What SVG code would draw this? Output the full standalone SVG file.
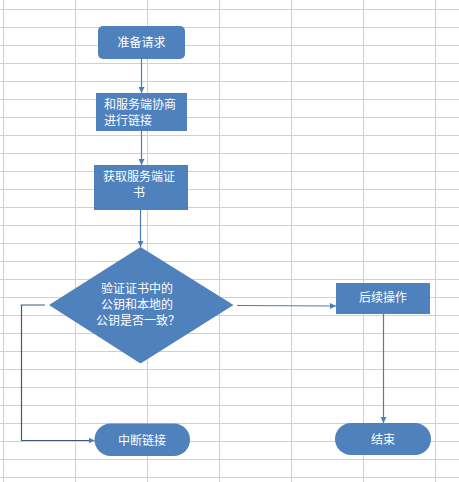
<svg xmlns="http://www.w3.org/2000/svg" width="459" height="482" viewBox="0 0 459 482">
<defs>
<style>
.grid line{stroke:#d0d0d0;stroke-width:1}
.shape{fill:#4f81bd}
.t{font-family:"Microsoft YaHei","Noto Sans CJK SC",sans-serif;font-size:12px;fill:#ffffff}
.c{fill:none;stroke:#4a7ebb;stroke-width:1.2}
.cd{fill:none;stroke:#3c5a80;stroke-width:1.2}
</style>
<marker id="ah" viewBox="0 0 10 10" refX="10" refY="5" markerWidth="6" markerHeight="6" orient="auto" markerUnits="userSpaceOnUse">
<path d="M0,0 L10,5 L0,10 Z" fill="#4a7ebb"/>
</marker>
</defs>
<rect width="459" height="482" fill="#ffffff"/>
<g class="grid">
<line x1="0" y1="9.5" x2="459" y2="9.5"/><line x1="0" y1="27.5" x2="459" y2="27.5"/><line x1="0" y1="45.5" x2="459" y2="45.5"/><line x1="0" y1="63.5" x2="459" y2="63.5"/><line x1="0" y1="81.5" x2="459" y2="81.5"/><line x1="0" y1="99.5" x2="459" y2="99.5"/><line x1="0" y1="117.5" x2="459" y2="117.5"/><line x1="0" y1="135.5" x2="459" y2="135.5"/><line x1="0" y1="153.5" x2="459" y2="153.5"/><line x1="0" y1="171.5" x2="459" y2="171.5"/><line x1="0" y1="189.5" x2="459" y2="189.5"/><line x1="0" y1="207.5" x2="459" y2="207.5"/><line x1="0" y1="225.5" x2="459" y2="225.5"/><line x1="0" y1="243.5" x2="459" y2="243.5"/><line x1="0" y1="261.5" x2="459" y2="261.5"/><line x1="0" y1="279.5" x2="459" y2="279.5"/><line x1="0" y1="297.5" x2="459" y2="297.5"/><line x1="0" y1="315.5" x2="459" y2="315.5"/><line x1="0" y1="333.5" x2="459" y2="333.5"/><line x1="0" y1="351.5" x2="459" y2="351.5"/><line x1="0" y1="369.5" x2="459" y2="369.5"/><line x1="0" y1="387.5" x2="459" y2="387.5"/><line x1="0" y1="405.5" x2="459" y2="405.5"/><line x1="0" y1="423.5" x2="459" y2="423.5"/><line x1="0" y1="441.5" x2="459" y2="441.5"/><line x1="0" y1="459.5" x2="459" y2="459.5"/><line x1="0" y1="477.5" x2="459" y2="477.5"/>
<line x1="3.5" y1="0" x2="3.5" y2="482"/><line x1="75.5" y1="0" x2="75.5" y2="482"/><line x1="147.5" y1="0" x2="147.5" y2="482"/><line x1="219.5" y1="0" x2="219.5" y2="482"/><line x1="291.5" y1="0" x2="291.5" y2="482"/><line x1="363.5" y1="0" x2="363.5" y2="482"/><line x1="435.5" y1="0" x2="435.5" y2="482"/>
</g>
<g id="connectors">
<line class="c" x1="141.5" y1="59" x2="141.5" y2="93" marker-end="url(#ah)"/>
<line class="c" x1="141.5" y1="131" x2="141.5" y2="165" marker-end="url(#ah)"/>
<line class="c" x1="140.5" y1="210" x2="140.5" y2="247" marker-end="url(#ah)"/>
<polyline class="cd" points="45,305 21.5,305 21.5,440.5 94.5,440.5" marker-end="url(#ah)"/>
<line class="c" x1="237" y1="305.5" x2="336" y2="306" marker-end="url(#ah)"/>
<line class="c" x1="383.5" y1="314" x2="383.5" y2="423" marker-end="url(#ah)"/>
</g>
<g id="n1">
<rect class="shape" x="98" y="26" width="87" height="33" rx="5"/>
<text class="t" x="141.5" y="46.5" text-anchor="middle">准备请求</text>
</g>
<g id="n2">
<rect class="shape" x="96" y="93" width="91" height="38"/>
<text class="t" x="104" y="109">和服务端协商</text>
<text class="t" x="104" y="125">进行链接</text>
</g>
<g id="n3">
<rect class="shape" x="94" y="165" width="94" height="45"/>
<text class="t" x="139" y="180.5" text-anchor="middle">获取服务端证</text>
<text class="t" x="139" y="197" text-anchor="middle">书</text>
</g>
<g id="n4">
<polygon class="shape" points="140.5,247 233.5,305 140.5,363.5 49,305"/>
<text class="t" x="137" y="293" text-anchor="middle">验证证书中的</text>
<text class="t" x="137" y="309" text-anchor="middle">公钥和本地的</text>
<text class="t" x="138" y="325" text-anchor="middle">公钥是否一致？</text>
</g>
<g id="n5">
<rect class="shape" x="336" y="283" width="94" height="31"/>
<text class="t" x="383" y="302" text-anchor="middle">后续操作</text>
</g>
<g id="n6">
<rect class="shape" x="94.5" y="423.5" width="95.5" height="32.5" rx="16.25"/>
<text class="t" x="142" y="444.5" text-anchor="middle">中断链接</text>
</g>
<g id="n7">
<rect class="shape" x="335" y="423" width="96" height="32" rx="16"/>
<text class="t" x="383" y="443.5" text-anchor="middle">结束</text>
</g>
</svg>
